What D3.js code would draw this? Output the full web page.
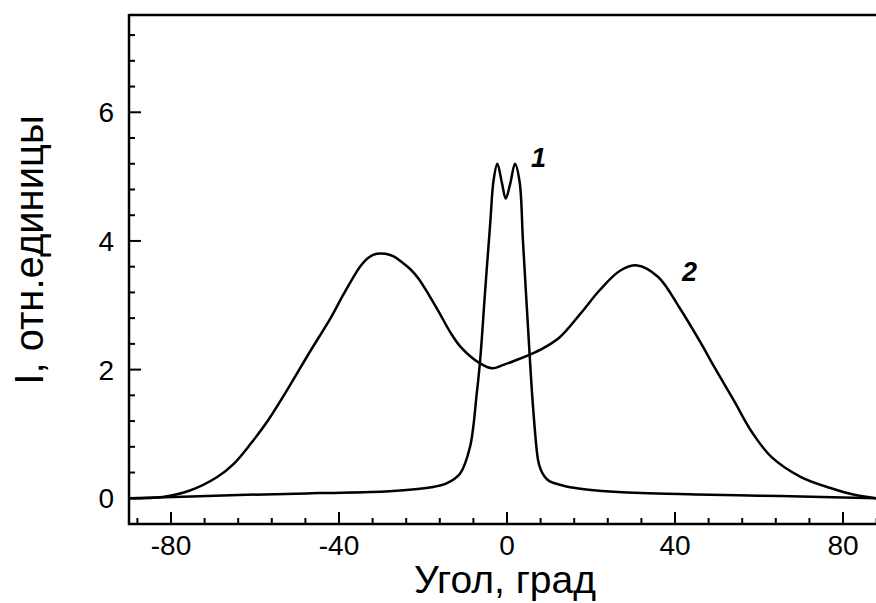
<!DOCTYPE html>
<html>
<head>
<meta charset="utf-8">
<script src="https://cdn.jsdelivr.net/npm/d3@7"></script>
<style>
  body { margin: 0; background: #fff; }
  text { font-family: "Liberation Sans", Arial, sans-serif; fill: #000; }
</style>
</head>
<body>
<div id="chart"></div>
<script>
// curve 1 (narrow peak) and curve 2 (broad two-lobed)
let angle1 = [-90, -64, -45, -28, -18, -14.4, -11.2, -8.8, -7.2, -6.4, -5.2, -4, -3.2, -2.3, -1.2, -0.3, 0.8, 1.9, 3.0, 3.8, 5.0, 6.2, 7.4, 8.0, 8.8, 10, 12.6, 15, 20, 32, 45, 60, 75, 88];
let int1 = [0, 0.05, 0.08, 0.11, 0.17, 0.23, 0.38, 0.80, 1.63, 2.14, 3.23, 4.27, 4.94, 5.2, 4.9, 4.66, 4.9, 5.2, 4.92, 4.0, 2.66, 1.42, 0.59, 0.45, 0.35, 0.27, 0.21, 0.17, 0.13, 0.08, 0.06, 0.04, 0.02, 0];

let angle2 = [-90, -82, -75.5, -69, -65, -61, -57, -52, -47, -42, -39, -35, -33, -31, -29, -27, -25, -23, -21, -18.5, -16, -13.5, -11, -6.5, -3.5, -1, 1.5, 6, 8, 12.5, 17.5, 22, 27, 31, 36, 41, 46, 49, 54, 58.5, 63, 70, 77, 83, 88];
let int2 = [0, 0.02, 0.12, 0.33, 0.54, 0.85, 1.2, 1.72, 2.27, 2.80, 3.16, 3.60, 3.74, 3.80, 3.80, 3.76, 3.67, 3.56, 3.41, 3.15, 2.87, 2.58, 2.35, 2.10, 2.02, 2.07, 2.13, 2.25, 2.31, 2.50, 2.87, 3.23, 3.54, 3.62, 3.44, 2.97, 2.43, 2.08, 1.52, 1.01, 0.64, 0.33, 0.16, 0.05, 0];

let xMajor = [-80, -40, 0, 40, 80];
let yMajor = [0, 2, 4, 6];

let W = 876, H = 603;
let plotLeft = 129, plotTop = 15, plotBottom = 524;

let svg = d3.select("#chart")
            .append("svg")
            .attr("width", W)
            .attr("height", H);

let x = d3.scaleLinear().domain([-90, 90]).range([plotLeft, plotLeft + 180 * 4.2]);
let y = d3.scaleLinear().domain([-0.4, 7.5]).range([plotBottom, plotBottom - 7.9 * 64.33]);

let xMinor = d3.range(-88, 90, 8).filter(function(v) { return xMajor.indexOf(v) < 0; });
let yMinor = d3.range(0, 7.5, 0.4).map(function(v) { return +v.toFixed(1); })
               .filter(function(v) { return yMajor.indexOf(v) < 0; });

// frame: top line
svg.append("line")
   .attr("x1", plotLeft).attr("x2", W)
   .attr("y1", plotTop).attr("y2", plotTop)
   .attr("stroke", "#000").attr("stroke-width", 2.5);

// bottom axis
let gx = svg.append("g").attr("transform", "translate(0," + plotBottom + ")");
gx.append("line").attr("x1", plotLeft - 1).attr("x2", W).attr("stroke", "#000").attr("stroke-width", 2.5);
gx.selectAll(".maj").data(xMajor).enter().append("line")
  .attr("x1", x).attr("x2", x).attr("y1", 0).attr("y2", -12)
  .attr("stroke", "#000").attr("stroke-width", 2);
gx.selectAll(".min").data(xMinor).enter().append("line")
  .attr("x1", x).attr("x2", x).attr("y1", 0).attr("y2", -6)
  .attr("stroke", "#000").attr("stroke-width", 2);
gx.selectAll(".lab").data(xMajor).enter().append("text")
  .attr("x", x).attr("y", 31)
  .attr("text-anchor", "middle")
  .style("font-size", "28px")
  .text(function(d) { return d; });

// left axis
let gy = svg.append("g").attr("transform", "translate(" + plotLeft + ",0)");
gy.append("line").attr("y1", plotTop - 1).attr("y2", plotBottom + 1).attr("stroke", "#000").attr("stroke-width", 2.5);
gy.selectAll(".maj").data(yMajor).enter().append("line")
  .attr("y1", y).attr("y2", y).attr("x1", 0).attr("x2", 12)
  .attr("stroke", "#000").attr("stroke-width", 2);
gy.selectAll(".min").data(yMinor).enter().append("line")
  .attr("y1", y).attr("y2", y).attr("x1", 0).attr("x2", 6)
  .attr("stroke", "#000").attr("stroke-width", 2);
gy.selectAll(".lab").data(yMajor).enter().append("text")
  .attr("x", -15).attr("y", function(d) { return y(d) + 10; })
  .attr("text-anchor", "end")
  .style("font-size", "28px")
  .text(function(d) { return d; });

// curves
let line = d3.line()
             .x(function(d) { return x(d[0]); })
             .y(function(d) { return y(d[1]); })
             .curve(d3.curveCatmullRom.alpha(0.5));

svg.append("path")
   .datum(d3.zip(angle1, int1))
   .attr("d", line)
   .attr("fill", "none").attr("stroke", "#000").attr("stroke-width", 2.5);

svg.append("path")
   .datum(d3.zip(angle2, int2))
   .attr("d", line)
   .attr("fill", "none").attr("stroke", "#000").attr("stroke-width", 2.5);

// curve labels
svg.append("text").attr("x", 531).attr("y", 167)
   .style("font-size", "27px").style("font-weight", "bold").style("font-style", "italic")
   .text("1");
svg.append("text").attr("x", 682).attr("y", 281)
   .style("font-size", "27px").style("font-weight", "bold").style("font-style", "italic")
   .text("2");

// axis titles
svg.append("text")
   .attr("x", 505).attr("y", 593)
   .attr("text-anchor", "middle")
   .style("font-size", "39px")
   .text("Угол, град");

svg.append("text")
   .attr("transform", "translate(43,250) rotate(-90)")
   .attr("text-anchor", "middle")
   .style("font-size", "40px")
   .text("I, отн.единицы");
</script>
</body>
</html>
